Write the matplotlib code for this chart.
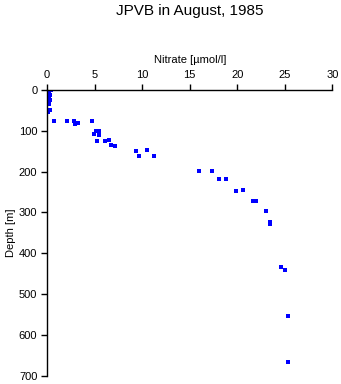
import matplotlib
matplotlib.use("Agg")
import matplotlib.pyplot as plt

# nitrate profile, JPVB August 1985
nitrate = [0.1, 0.4, 0.2, 0.3, 0.2, 0.3, 0.1, 0.2, 0.1, 0.35, 0.1,
           0.7, 2.07, 2.84, 2.9, 3.2, 4.7,
           5.16, 5.5, 4.98, 5.43, 5.3, 6.14, 6.56, 6.67, 7.09,
           9.34, 10.46, 9.65, 11.23,
           15.97, 17.35, 18.08, 18.76, 19.88, 20.6, 21.67, 22.0,
           23.04, 23.46, 23.46, 24.6, 25.04, 25.35, 25.35]
depth = [0, 0, 10, 13, 22, 25, 32, 35, 50, 49, 54,
         76, 76, 75, 84, 81, 76,
         100, 100, 108, 111, 125, 124, 122, 135, 137,
         149, 148, 163, 163,
         198, 198, 218, 218, 247, 246, 272, 273,
         296, 323, 328, 434, 440, 554, 667]

xticks = [0, 5, 10, 15, 20, 25, 30]
yticks = [0, 100, 200, 300, 400, 500, 600, 700]

plt.rcParams['font.family'] = ['Liberation Sans', 'DejaVu Sans']

fig = plt.figure(figsize=(3.41, 3.84), dpi=100)
ax = fig.add_axes([0.138, 0.021, 0.837, 0.745])

ax.plot(nitrate, depth, 's', color='#0000ff', markersize=2.4, markeredgewidth=0)

ax.set_xlim(0, 30)
ax.set_ylim(700, 0)
ax.set_xticks(xticks)
ax.set_yticks(yticks)

ax.xaxis.tick_top()
ax.xaxis.set_label_position('top')
ax.spines['bottom'].set_visible(False)
ax.spines['right'].set_visible(False)
ax.spines['top'].set_linewidth(1)
ax.spines['left'].set_linewidth(1)
ax.tick_params(axis='both', direction='out', length=4, width=1, labelsize=8, pad=3)

ax.set_xlabel('Nitrate [µmol/l]', fontsize=8, labelpad=5)
ax.set_ylabel('Depth [m]', fontsize=8, labelpad=2)

# title is centred over the axes, not the figure
fig.text(0.138 + 0.837 / 2, 0.99, 'JPVB in August, 1985', ha='center', va='top', fontsize=11)

fig.savefig('out.png', dpi=100)
